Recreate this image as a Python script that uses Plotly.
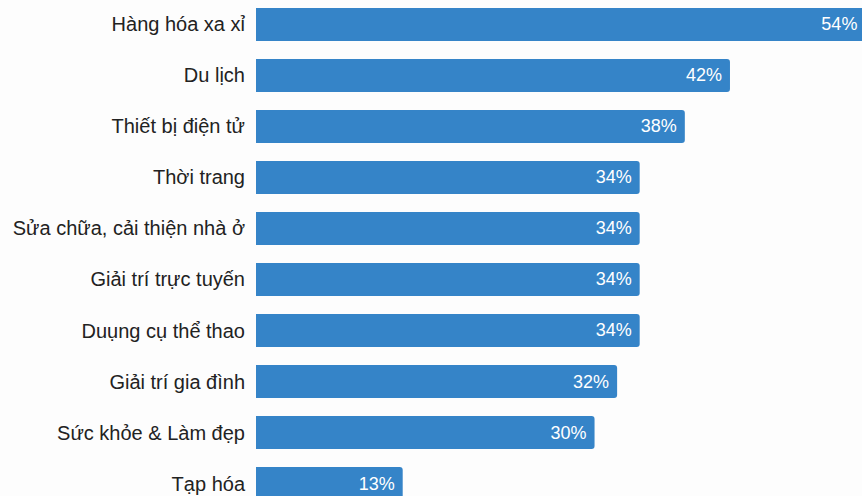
import plotly.graph_objects as go

categories = ["Hàng hóa xa xỉ", "Du lịch", "Thiết bị điện tử", "Thời trang",
              "Sửa chữa, cải thiện nhà ở", "Giải trí trực tuyến", "Duụng cụ thể thao",
              "Giải trí gia đình", "Sức khỏe & Làm đẹp", "Tạp hóa"]
values = [54, 42, 38, 34, 34, 34, 34, 32, 30, 13]
labels = [f"{v}%\u00a0" for v in values]

FONT = "Liberation Sans, Arial, sans-serif"

fig = go.Figure(go.Bar(
    x=values, y=categories, orientation="h",
    marker=dict(color="#3584c8", cornerradius=3, line=dict(width=0)),
    text=labels, textposition="inside", insidetextanchor="end",
    textfont=dict(color="white", size=18, family=FONT),
    width=0.65, cliponaxis=True,
))

fig.update_layout(
    width=862, height=496,
    margin=dict(l=256, r=0, t=0, b=0),
    paper_bgcolor="#fdfdfd", plot_bgcolor="#fdfdfd",
    showlegend=False,
    font=dict(family=FONT, size=20, color="#222222"),
)
fig.update_xaxes(range=[0, 53.7], visible=False, showgrid=False, zeroline=False)
fig.update_yaxes(range=[9.245, -0.48], showgrid=False, zeroline=False, showline=False,
                 ticks="", ticklabelstandoff=10, tickfont=dict(size=20, color="#222222", family=FONT))

fig.write_html("out.html")
